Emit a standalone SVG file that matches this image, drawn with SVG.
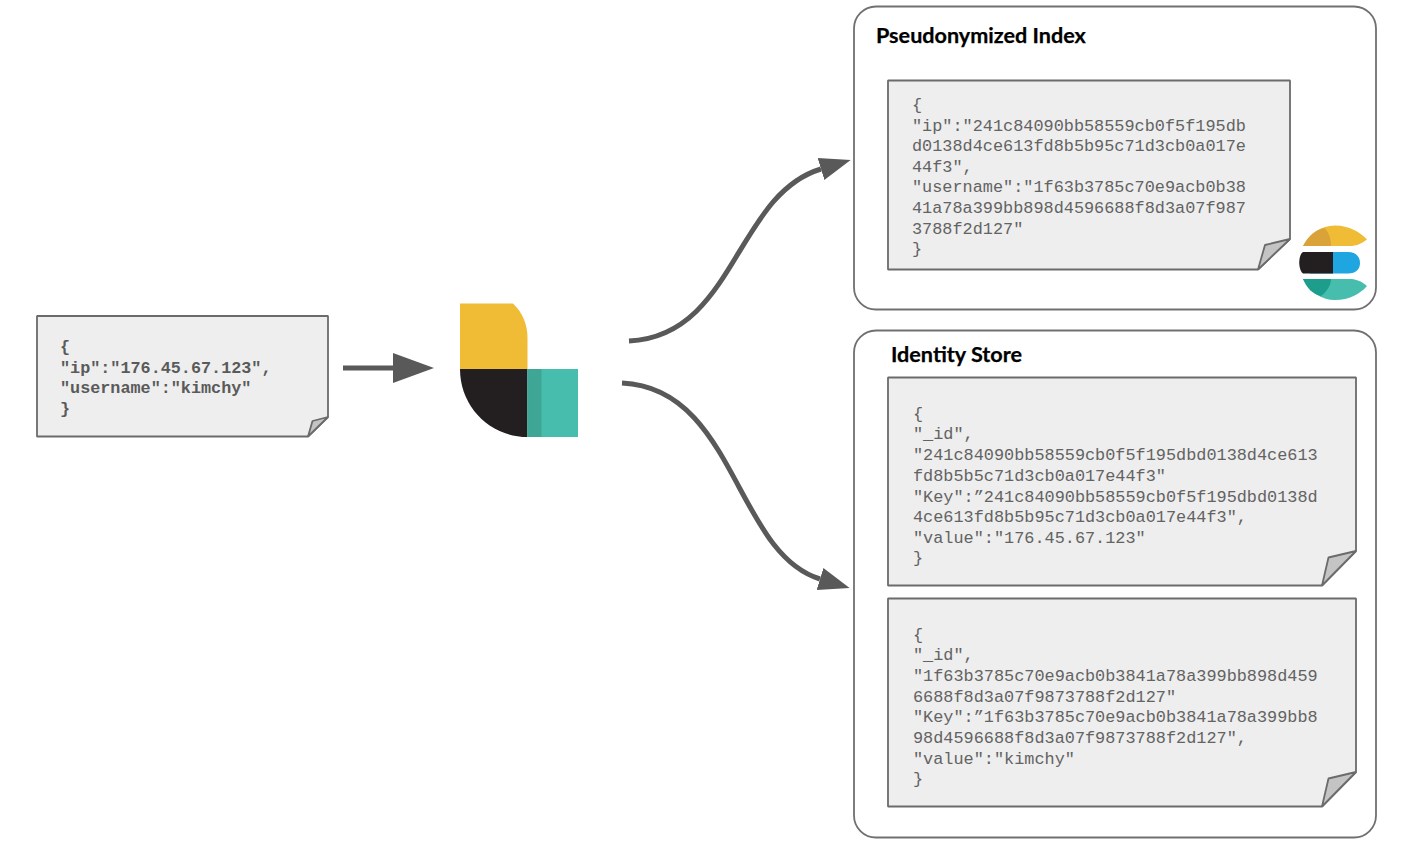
<svg xmlns="http://www.w3.org/2000/svg" width="1420" height="848" viewBox="0 0 1420 848">
<style>
.panel{fill:#fff;stroke:#707070;stroke-width:1.8}
.doc{fill:#eeeeee;stroke:#6b6b6b;stroke-width:1.8;stroke-linejoin:bevel}
.fold{fill:#c4c4c4;stroke:#6b6b6b;stroke-width:1.8;stroke-linejoin:bevel}
.code{font-family:"Liberation Mono",monospace;font-size:16.87px;fill:#636363}
.codeb{font-family:"Liberation Mono",monospace;font-size:16.8px;font-weight:700;fill:#5a5a5a}
.title{font-family:"Lato","Open Sans",sans-serif;font-size:21.6px;font-weight:700;fill:#000;stroke:#000;stroke-width:.25}
.conn{fill:none;stroke:#595959;stroke-width:5}
</style>
<defs>
<marker id="arrow-big" markerUnits="userSpaceOnUse" markerWidth="42" markerHeight="32" refX="0" refY="16" orient="auto" viewBox="0 0 42 32"><path d="M0 1L41 16L0 31Z" fill="#595959"/></marker>
<marker id="arrow-small" markerUnits="userSpaceOnUse" markerWidth="32" markerHeight="26" refX="0" refY="13" orient="auto" viewBox="0 0 32 26"><path d="M0 1.500L31 13L0 24.500Z" fill="#595959"/></marker>
</defs>
<g id="panel-pseudonymized">
<rect class="panel" x="854" y="6.500" width="522" height="303" rx="22"/>
<text class="title" x="876" y="43">Pseudonymized Index</text>
</g>
<g id="panel-identity">
<rect class="panel" x="854" y="330.500" width="522" height="507" rx="22"/>
<text class="title" x="891" y="362">Identity Store</text>
</g>
<g id="doc-input">
<path class="doc" d="M37 316H328V417L308 436.500H37Z"/>
<path class="fold" d="M328 417L312.500 421L308 436.500Z"/>
<text class="codeb"><tspan x="60" y="352">{</tspan><tspan x="60" y="373">"ip":"176.45.67.123",</tspan><tspan x="60" y="393">"username":"kimchy"</tspan><tspan x="60" y="414">}</tspan></text>
</g>
<g id="doc-pseudonymized">
<path class="doc" d="M888 80.500H1290V239L1258 269.500H888Z"/>
<path class="fold" d="M1290 239L1265 245L1258 269.500Z"/>
<text class="code"><tspan x="912" y="110">{</tspan><tspan x="912" y="131">"ip":"241c84090bb58559cb0f5f195db</tspan><tspan x="912" y="151">d0138d4ce613fd8b5b95c71d3cb0a017e</tspan><tspan x="912" y="172">44f3",</tspan><tspan x="912" y="192">"username":"1f63b3785c70e9acb0b38</tspan><tspan x="912" y="213">41a78a399bb898d4596688f8d3a07f987</tspan><tspan x="912" y="234">3788f2d127"</tspan><tspan x="912" y="254">}</tspan></text>
</g>
<g id="doc-identity-1">
<path class="doc" d="M888 377.500H1356V551L1322 585.500H888Z"/>
<path class="fold" d="M1356 551L1328.500 557.500L1322 585.500Z"/>
<text class="code"><tspan x="913" y="419">{</tspan><tspan x="913" y="439">"_id",</tspan><tspan x="913" y="460">"241c84090bb58559cb0f5f195dbd0138d4ce613</tspan><tspan x="913" y="481">fd8b5b5c71d3cb0a017e44f3"</tspan><tspan x="913" y="502">"Key":”241c84090bb58559cb0f5f195dbd0138d</tspan><tspan x="913" y="522">4ce613fd8b5b95c71d3cb0a017e44f3",</tspan><tspan x="913" y="543">"value":"176.45.67.123"</tspan><tspan x="913" y="563">}</tspan></text>
</g>
<g id="doc-identity-2">
<path class="doc" d="M888 598.500H1356V772L1322 806.500H888Z"/>
<path class="fold" d="M1356 772L1328.500 778.500L1322 806.500Z"/>
<text class="code"><tspan x="913" y="640">{</tspan><tspan x="913" y="660">"_id",</tspan><tspan x="913" y="681">"1f63b3785c70e9acb0b3841a78a399bb898d459</tspan><tspan x="913" y="702">6688f8d3a07f9873788f2d127"</tspan><tspan x="913" y="722">"Key":”1f63b3785c70e9acb0b3841a78a399bb8</tspan><tspan x="913" y="743">98d4596688f8d3a07f9873788f2d127",</tspan><tspan x="913" y="764">"value":"kimchy"</tspan><tspan x="913" y="784">}</tspan></text>
</g>
<g id="connectors">
<path class="conn" d="M343 368H393" marker-end="url(#arrow-big)"/>
<path class="conn" d="M629 341C735 336 735 195 821 169" marker-end="url(#arrow-small)"/>
<path class="conn" d="M622 383C735 388 735 553 820 579" marker-end="url(#arrow-small)"/>
</g>
<g id="logstash-logo">
<path d="M460 303.500H513C523 313 527.500 325 527.500 338V369H460Z" fill="#f0bb35"/>
<path d="M460 369H527.500V437C490 437 460 407 460 369Z" fill="#231f20"/>
<rect x="527.500" y="369" width="50.500" height="68" fill="#47bdae"/>
<rect x="527.500" y="369" width="14" height="68" fill="#3fa595"/>
</g>
<g id="elasticsearch-logo">
<path d="M1303 246C1310 234 1321 225.500 1335 225.500C1349 225.500 1360 232 1367 239.500C1361 244 1356 246 1350 246Z" fill="#f0bb35"/>
<path d="M1303 246C1308 236 1315 230 1324 228C1327 230 1331 236 1331 246Z" fill="#d9a33a"/>
<path d="M1310 252H1348C1356 252 1360 257 1360 263C1360 269 1356 273.500 1348 273.500H1310Z" fill="#1fa5e0"/>
<path d="M1303 252H1333V273.500H1303C1298 270 1298 255 1303 252Z" fill="#231f20"/>
<path d="M1303 279H1350C1356 279 1361 281 1367 286C1360 294 1349 300 1335 300C1321 300 1310 292 1303 279Z" fill="#47bdae"/>
<path d="M1303 279H1331C1331 286 1326 292 1321 296C1312 294 1307 288 1303 279Z" fill="#1d9e8c"/>
</g>
</svg>
